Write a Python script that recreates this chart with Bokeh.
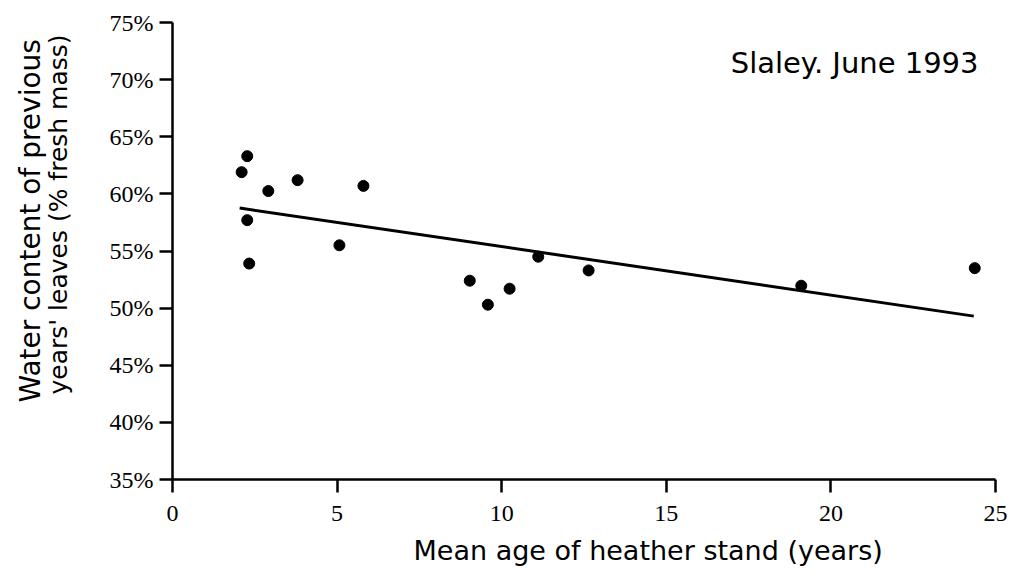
from bokeh.plotting import figure
from bokeh.models import Range1d, FixedTicker, Label, Title, LinearAxis
from bokeh.embed import file_html
from bokeh.resources import INLINE

# Data
age = [2.10, 2.27, 2.27, 2.33, 2.91, 3.80, 5.07, 5.80, 9.03, 9.58, 10.24, 11.11, 12.64, 19.10, 24.37]
water = [61.9, 63.3, 57.7, 53.9, 60.25, 61.2, 55.5, 60.7, 52.4, 50.3, 51.7, 54.5, 53.3, 51.96, 53.5]
fit_age = [2.04, 24.34]
fit_water = [58.76, 49.3]

x_ticks = [0, 5, 10, 15, 20, 25]
x_tick_labels = ["0", "5", "10", "15", "20", "25"]
y_ticks = [35, 40, 45, 50, 55, 60, 65, 70, 75]
y_tick_labels = ["35%", "40%", "45%", "50%", "55%", "60%", "65%", "70%", "75%"]

x_title = "Mean age of heather stand (years)"
y_title_1 = "Water content of previous"
y_title_2 = "years' leaves (% fresh mass)"
note = "Slaley. June 1993"

SANS = "DejaVu Sans"
SERIF = "Liberation Serif"

p = figure(width=1014, height=583, output_backend="svg", toolbar_location=None,
           x_range=Range1d(0, 25), y_range=Range1d(35, 75),
           min_border_left=172, min_border_right=19, min_border_top=22, min_border_bottom=104)
p.outline_line_color = None
p.grid.visible = False

for ax, ticks, labels, standoff in ((p.xaxis[0], x_ticks, x_tick_labels, 13),
                                     (p.yaxis[0], y_ticks, y_tick_labels, 6)):
    ax.ticker = FixedTicker(ticks=ticks)
    ax.major_label_overrides = {t: l for t, l in zip(ticks, labels)}
    ax.axis_line_width = 2.5
    ax.axis_line_color = "black"
    ax.major_tick_line_width = 2.5
    ax.major_tick_line_color = "black"
    ax.major_tick_out = 13
    ax.major_tick_in = 0
    ax.minor_tick_out = 0
    ax.minor_tick_in = 0
    ax.major_label_text_font = SERIF
    ax.major_label_text_font_size = "24px"
    ax.major_label_text_color = "black"
    ax.major_label_standoff = standoff

p.scatter(age, water, size=11, color="black")
p.line(fit_age, fit_water, line_width=3, color="black")

# invisible spacer panel between the tick labels and the two-line y title
spacer = LinearAxis(ticker=FixedTicker(ticks=[55]), major_label_overrides={55: ""},
                    axis_line_color=None, major_tick_line_color=None,
                    minor_tick_line_color=None,
                    major_tick_out=34, major_tick_in=0, minor_tick_out=0, minor_tick_in=0,
                    major_label_standoff=0, axis_label_standoff=0)
p.add_layout(spacer, "left")

xstyle = dict(text_font=SANS, text_font_size="27px", text_font_style="normal",
              text_color="black")
p.add_layout(Title(text=x_title, align="left", offset=241, standoff=18, **xstyle), "below")
p.add_layout(Title(text=y_title_2, align="left", offset=85, standoff=0, text_font=SANS,
                   text_font_size="25px", text_font_style="normal", text_color="black"), "left")
p.add_layout(Title(text=y_title_1, align="left", offset=77, standoff=-10, text_font=SANS,
                   text_font_size="28px", text_font_style="normal", text_color="black"), "left")

p.add_layout(Label(x=806, y=417, x_units="screen", y_units="screen", text=note,
                   text_align="right", text_baseline="middle", text_font=SANS,
                   text_font_size="29px", text_color="black"))

open("out.html", "w").write(file_html(p, INLINE))
